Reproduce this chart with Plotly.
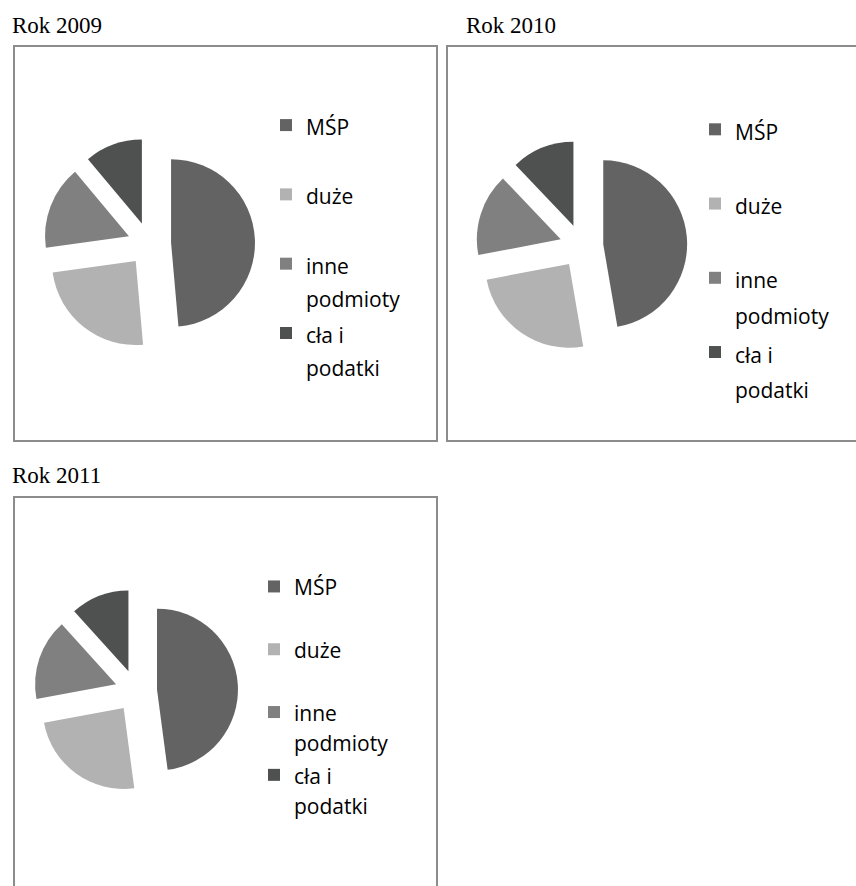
import plotly.graph_objects as go

# ---------------- data ----------------
categories = ["MŚP", "duże", "inne podmioty", "cła i podatki"]
legend_lines = [["MŚP", "&nbsp;"], ["duże", "&nbsp;"], ["inne", "podmioty"], ["cła i", "podatki"]]
years = ["Rok 2009", "Rok 2010", "Rok 2011"]
values_2009 = [48.6, 24.2, 16.1, 11.1]
values_2010 = [47.3, 24.7, 15.9, 12.1]
values_2011 = [47.9, 24.2, 16.2, 11.7]
slice_colors = ["#636363", "#b2b2b2", "#7f807f", "#4f5150"]

W, H = 856, 886
TEXT_PX = 21


def px_x(v):
    return v / W


def px_y(v):
    return 1 - v / H


def legend_label(lines):
    return "<br>".join(f'<span style="font-size:{TEXT_PX}px">{t}</span>' for t in lines)


labels = [legend_label(l) for l in legend_lines]

# pie placement (pixel boxes) and legend settings per panel
panels = [
    dict(name=years[0], values=values_2009, box=(43.6, 138.3, 255.0, 349.7), legend="legend",
         lx=266, ltop=102, lfont=25.5),
    dict(name=years[1], values=values_2010, box=(475.8, 140.3, 687.2, 351.7), legend="legend2",
         lx=695, ltop=105, lfont=27.4),
    dict(name=years[2], values=values_2011, box=(34.0, 589.0, 238.0, 793.0), legend="legend3",
         lx=254, ltop=565, lfont=23.0),
]

fig = go.Figure()
for p in panels:
    x0, y0, x1, y1 = p["box"]
    fig.add_trace(go.Pie(
        name=p["name"],
        labels=labels,
        values=p["values"],
        customdata=categories,
        sort=False,
        direction="clockwise",
        rotation=0,
        pull=[0.26] * len(categories),
        marker=dict(colors=slice_colors, line=dict(width=0)),
        textinfo="none",
        hovertemplate="%{customdata}: %{value}<extra></extra>",
        domain=dict(x=[px_x(x0), px_x(x1)], y=[px_y(y1), px_y(y0)]),
        legend=p["legend"],
        legendgroup=p["name"],
        showlegend=True,
    ))

legend_common = dict(
    xanchor="left", yanchor="top", bgcolor="rgba(0,0,0,0)", borderwidth=0,
    valign="top", orientation="v", traceorder="normal",
)
layout_legends = {}
for p in panels:
    layout_legends[p["legend"]] = dict(
        x=px_x(p["lx"]), y=px_y(p["ltop"]),
        font=dict(family="Open Sans", size=p["lfont"], color="#000000"),
        **legend_common,
    )

# frames around each chart
frames = [(14, 46, 437, 441), (447, 46, 870, 441), (14, 497, 437, 900)]
shapes = [
    dict(type="rect", xref="paper", yref="paper",
         x0=px_x(a), y0=px_y(d), x1=px_x(c), y1=px_y(b),
         line=dict(color="#8c8c8c", width=2), fillcolor="rgba(0,0,0,0)", layer="below")
    for a, b, c, d in frames
]

title_pos = [(10, 25), (464, 25), (10, 475)]
annotations = [
    dict(text=t, x=px_x(x), y=px_y(y), xref="paper", yref="paper",
         xanchor="left", yanchor="middle", showarrow=False,
         font=dict(family="Liberation Serif", size=23, color="#000000"))
    for t, (x, y) in zip(years, title_pos)
]

fig.update_layout(
    width=W, height=H,
    margin=dict(l=0, r=0, t=0, b=0, pad=0, autoexpand=False),
    paper_bgcolor="#ffffff", plot_bgcolor="#ffffff",
    shapes=shapes, annotations=annotations,
    **layout_legends,
)

fig.write_html("out.html")
